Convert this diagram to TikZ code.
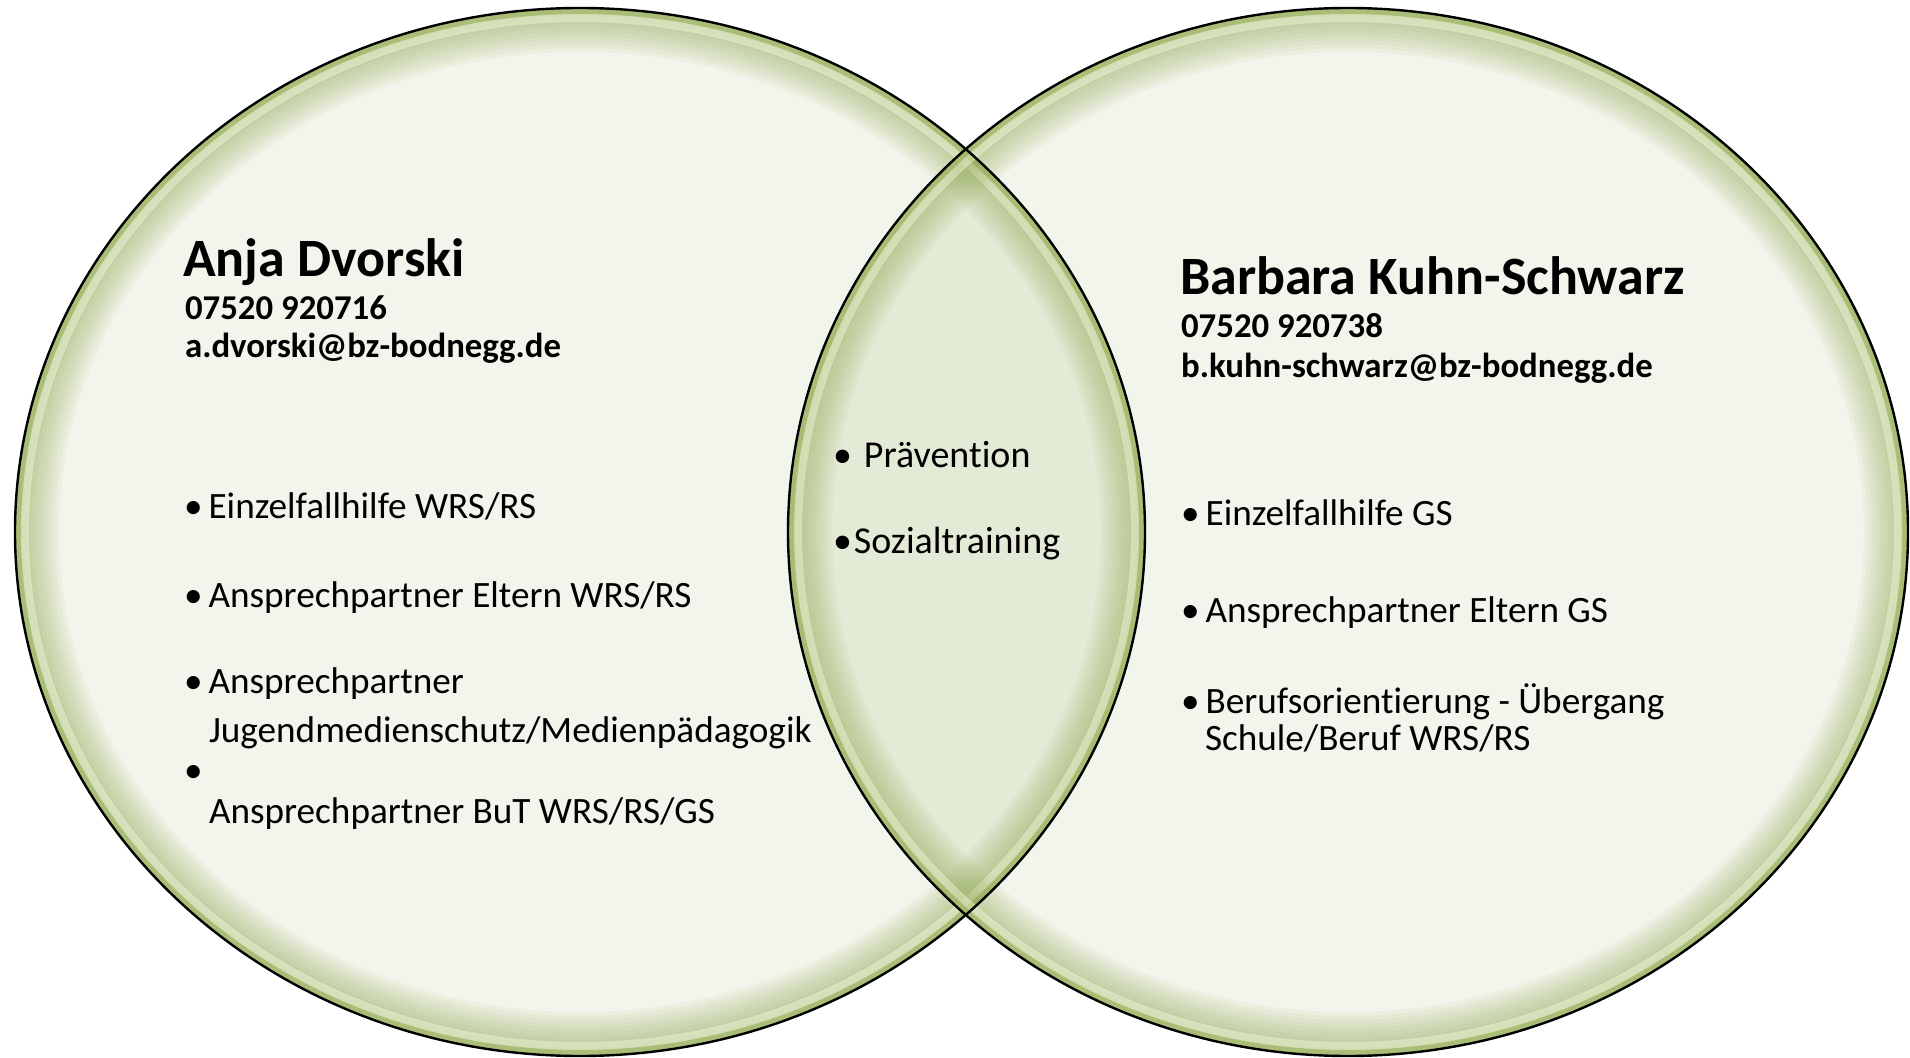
\documentclass[tikz,border=0pt]{standalone}
\usepackage{fontspec}
\setmainfont{Carlito}[Ligatures=NoCommon]
\definecolor{discfill}{HTML}{F2F5EC}
\definecolor{lensfill}{HTML}{E3EAD6}
\definecolor{rimgreen}{HTML}{8FA84E}
\definecolor{rimlight}{HTML}{F4FADF}
\tikzset{
  namestyle/.style={anchor=base west, font=\fontsize{27}{30}\selectfont\bfseries},
  contactstyle/.style={anchor=base west, font=\fontsize{17.4}{20}\selectfont\bfseries},
  itemstyle/.style={anchor=base west, font=\fontsize{18.6}{22}\selectfont},
  midstyle/.style={anchor=base west, font=\fontsize{19}{22}\selectfont},
}
\newcommand{\leftdisc}{(580,532) ellipse [x radius=282.5pt, y radius=262pt]}
\newcommand{\rightdisc}{(1348,532) ellipse [x radius=280pt, y radius=262pt]}
\begin{document}
\begin{tikzpicture}[x=0.5pt, y=-0.5pt]
  \useasboundingbox (0,0) rectangle (1910,1058);
  % discs
  \fill[discfill] \leftdisc;
  \fill[discfill] \rightdisc;
  \begin{scope}
    \clip \leftdisc;
    \fill[lensfill] \rightdisc;
  \end{scope}
  % inner rim
  \foreach \d in {\leftdisc, \rightdisc} {
    \begin{scope}
      \clip \d;
      \foreach \w in {4,8,...,44} {
        \draw[rimgreen, line width=\w pt, opacity=0.07] \d;
      }
      \draw[rimlight, line width=14pt, opacity=0.45] \d;
      \draw[rimgreen, line width=6pt, opacity=0.6] \d;
    \end{scope}
  }
  \draw[black, line width=1.2pt] \leftdisc;
  \draw[black, line width=1.2pt] \rightdisc;

  % left person
  \node[namestyle] (nameA) at (176,277) {Anja Dvorski};
  \node[contactstyle] (phoneA) at (178,320) {07520 920716};
  \node[contactstyle] (mailA) at (178,358) {a.dvorski@bz-bodnegg.de};
  \node[itemstyle] (a1) at (177,518) {•\hspace{3pt}Einzelfallhilfe WRS/RS};
  \node[itemstyle] (a2) at (177,607) {•\hspace{3pt}Ansprechpartner Eltern WRS/RS};
  \node[itemstyle] (a3) at (177,693) {•\hspace{3pt}Ansprechpartner};
  \node[itemstyle] (a3b) at (202,742) {Jugendmedienschutz/Medienpädagogik};
  \node[itemstyle] (a4) at (177,782) {•};
  \node[itemstyle] (a4b) at (202,823) {Ansprechpartner BuT WRS/RS/GS};

  % middle
  \node[midstyle] (m1) at (826,468) {•\hspace{6pt}Prävention};
  \node[midstyle] (m2) at (826,553) {•\hspace{1pt}Sozialtraining};

  % right person
  \node[namestyle] (nameB) at (1173,295) {Barbara Kuhn-Schwarz};
  \node[contactstyle] (phoneB) at (1174,338) {07520 920738};
  \node[contactstyle] (mailB) at (1174,378) {b.kuhn-schwarz@bz-bodnegg.de};
  \node[itemstyle] (b1) at (1174,525) {•\hspace{3pt}Einzelfallhilfe GS};
  \node[itemstyle] (b2) at (1174,622) {•\hspace{3pt}Ansprechpartner Eltern GS};
  \node[itemstyle] (b3) at (1174,713) {•\hspace{3pt}Berufsorientierung - Übergang};
  \node[itemstyle] (b3b) at (1198,750) {Schule/Beruf WRS/RS};
\end{tikzpicture}
\end{document}
